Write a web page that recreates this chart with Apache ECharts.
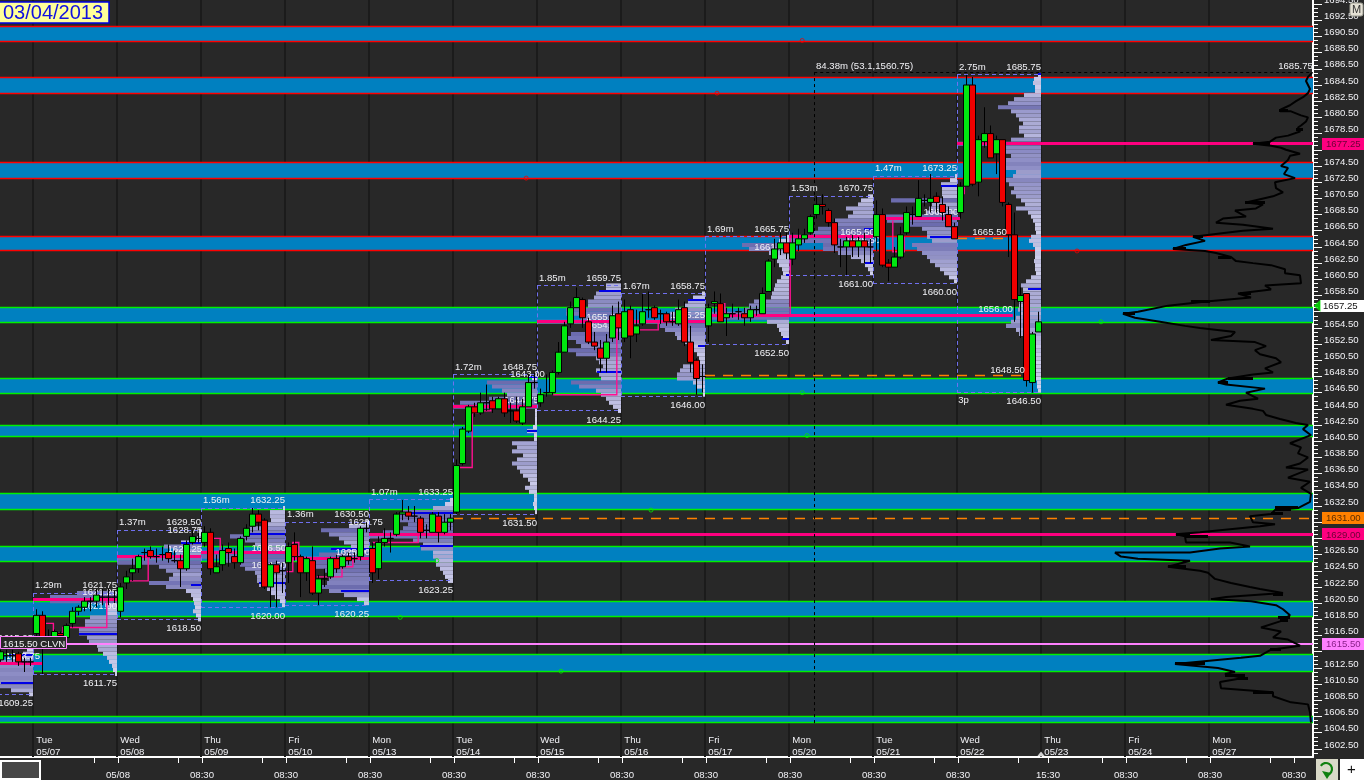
<!DOCTYPE html>
<html><head><meta charset="utf-8">
<style>html,body{margin:0;padding:0;background:#282828;overflow:hidden}#c{width:1364px;height:780px}</style>
<script src="https://cdn.jsdelivr.net/npm/echarts@6/dist/echarts.min.js"></script>
</head><body><div id="c"></div>
<script>
// ---------- axis data ----------
const priceMin = 1601.5, priceMax = 1695, barMin = -5.5, barMax = 213.33;
const priceLabels = [1602.5,1604.5,1606.5,1608.5,1610.5,1612.5,1614.5,1616.5,1618.5,1620.5,1622.5,1624.5,1626.5,1628.5,1630.5,1632.5,1634.5,1636.5,1638.5,1640.5,1642.5,1644.5,1646.5,1648.5,1650.5,1652.5,1654.5,1656.5,1658.5,1660.5,1662.5,1664.5,1666.5,1668.5,1670.5,1672.5,1674.5,1676.5,1678.5,1680.5,1682.5,1684.5,1686.5,1688.5,1690.5,1692.5,1694.5];
const timeTicks = [10.17,14.17,24.17,28.17,38.17,42.17,52.17,56.17,66.17,70.17,80.17,84.17,94.17,98.17,108.17,112.17,122.17,126.17,136.17,140.17,150.17,154.17,164.17,169.17,178.17,182.17,192.17,196.17,206.17,210.17];
const timeLabelBars = [14.17,28.17,42.17,56.17,70.17,84.17,98.17,112.17,126.17,140.17,154.17,169.17,182.17,196.17,210.17];
const timeLabelText = ['05/08','08:30','08:30','08:30','08:30','08:30','08:30','08:30','08:30','08:30','08:30','15:30','08:30','08:30','08:30'];
const dayNames = ['Tue','Wed','Thu','Fri','Mon','Tue','Wed','Thu','Fri','Mon','Tue','Wed','Thu','Fri','Mon'];
const dayDates = ['05/07','05/08','05/09','05/10','05/13','05/14','05/15','05/16','05/17','05/20','05/21','05/22','05/23','05/24','05/27'];

// ---------- zones ----------
const bandHigh = [1691.75,1685.4,1674.9,1665.8,1657.05,1648.2,1642.5,1634.1,1627.55,1620.7,1614.1,1606.5];
const bandLow  = [1689.9,1683.5,1673,1664,1655.2,1646.4,1641.1,1632.1,1625.7,1618.9,1612.1,1605.7];
const bandKind = ['r','r','r','r','g','g','g','g','g','g','g','g'];

// ---------- candles [open, close, low, high] ----------
const firstBar = -5.4;
const candles = [
[1613.5,1614.5,1613.25,1614.75],[1614,1614,1613.25,1614.75],[1614,1614,1613.25,1614.75],[1614.25,1613.25,1612.75,1614.5],[1613.25,1613.25,1612,1613.75],[1613.25,1613.25,1612.75,1613.75],
// 05/07
[1616.75,1619,1616.25,1619.75],[1619,1616.25,1611.75,1619.5],[1616.25,1616.25,1615.25,1617.25],[1616.25,1617,1616,1617.25],[1616.75,1616.5,1616.25,1617],[1616.25,1617.75,1616.25,1618],[1618,1619.5,1617.5,1620],[1619.5,1620,1619,1620.25],[1620,1620.75,1619.5,1621.25],[1620.75,1620.75,1619.5,1621.25],[1620.75,1621.5,1620,1622.25],[1621.25,1621.25,1620.25,1622.25],[1621.25,1621.25,1620.25,1622.25],[1621.25,1621.25,1620.5,1622],
// 05/08
[1619.5,1622.5,1618.75,1623],[1623,1623.75,1622.25,1624.5],[1624.25,1624.75,1623.25,1626],[1624.75,1626.25,1624.25,1626.5],[1626.75,1626.75,1625.75,1627.25],[1627,1626.25,1626,1627.5],[1626.25,1626.25,1625.5,1627.25],[1626.5,1626.5,1625.75,1627.5],[1626.75,1626,1625.5,1627.75],[1625.75,1625.75,1625.5,1627],[1625.75,1624.75,1622.5,1626.5],[1624.75,1627.75,1624.5,1628.25],[1628,1628.75,1627.75,1629.5],[1628.5,1628.5,1628,1629.25],
// 05/09
[1628,1629.25,1627.5,1630],[1629.25,1624.75,1624,1629.75],[1624.25,1625,1624.25,1626.5],[1625.25,1627,1624.5,1627.75],[1627.25,1626.75,1625,1628],[1626.25,1625.5,1624.75,1627.25],[1625.5,1628.5,1625.25,1628.75],[1628.75,1629.75,1628.25,1630.25],[1630,1631.5,1629.25,1632.25],[1631.5,1630.5,1629.5,1632],[1630.75,1622.5,1622.25,1631],[1622.5,1625.25,1620,1625.5],[1625.25,1624.25,1620,1625.75],[1624.5,1624.5,1621.75,1625.5],
// 05/10
[1625.5,1627.5,1623,1628],[1627.75,1626.25,1625.75,1629.25],[1626.25,1624.25,1621.25,1626.5],[1624.25,1626,1623.25,1626.25],[1625.75,1621.75,1621.5,1627.5],[1621.75,1623.5,1620.25,1624],[1623.5,1623.5,1622.5,1624.75],[1623.75,1626,1623.5,1626.25],[1626,1624.75,1624.25,1626.5],[1625,1626.25,1624.75,1626.5],[1626.25,1625.75,1625.25,1626.75],[1626,1626,1625.5,1626.75],[1626.25,1629.75,1625.75,1630],[1629.75,1629.75,1629.25,1630.5],
// 05/13
[1627.25,1624.25,1623,1628],[1624.75,1628,1623.5,1628.75],[1628,1628.5,1627.5,1629.75],[1628.5,1628.5,1626.75,1629.25],[1629,1631.5,1628.75,1631.75],[1631.5,1631.75,1630.75,1633.25],[1631.75,1631.25,1630.75,1632.5],[1631.25,1631.25,1630.5,1632.5],[1631,1629.25,1628.5,1631.25],[1629.5,1629.5,1628.5,1630.25],[1629.25,1631.5,1629.25,1631.75],[1631.25,1629.25,1628,1631.75],[1629.25,1630.5,1629,1631.5],[1630.5,1631,1629.5,1631.5],
// 05/14
[1631.75,1637.5,1631.5,1638.25],[1637.75,1642,1637.5,1642.25],[1641.75,1644.75,1641.5,1645],[1644.75,1644,1643.5,1645.25],[1644,1645.25,1643.75,1646.5],[1645.25,1645.25,1644.25,1647.5],[1645.5,1644.5,1644,1646],[1644.5,1645.75,1644.5,1646],[1645.75,1644,1643.5,1646.5],[1644.25,1644.25,1642.75,1645.25],[1644.25,1643,1642.75,1646],[1642.75,1644.75,1642.5,1645.75],[1644.75,1647.75,1644.75,1648.75],[1647.75,1647.75,1647,1649],
// 05/15
[1645.25,1646.25,1644.75,1647],[1646.5,1646.5,1646,1648.75],[1646.5,1649,1646.25,1649.25],[1649,1651.5,1648.75,1652.75],[1651.5,1654.75,1651.5,1655.25],[1655,1657,1654.5,1657.75],[1657,1658.25,1657,1659.5],[1658,1655.75,1654.5,1658.25],[1655.25,1652.75,1652.5,1655.75],[1652.75,1652.25,1651.75,1654],[1652,1650.75,1649,1653],[1650.75,1652.75,1649,1653.75],[1653.25,1656,1652.75,1657.25],[1656.25,1654.5,1653,1657.75],
// 05/16
[1653.25,1656.5,1652.75,1658],[1656.75,1653.5,1650.75,1657.25],[1653.75,1654.75,1652.75,1656.75],[1655,1656.5,1654.75,1658.75],[1656.75,1656.75,1655.75,1659],[1657,1655.75,1655.5,1657.25],[1656.25,1656.25,1655,1656.75],[1656.25,1655.25,1654.75,1656.5],[1655.25,1655.25,1654.75,1656.5],[1655,1656.75,1654.75,1658],[1657,1652.75,1652.25,1657.75],[1652.75,1650.25,1649,1654.75],[1650.5,1648.25,1646.25,1650.75],[1648.5,1648.5,1646.5,1650],
// 05/17
[1654.75,1657,1652.75,1657.5],[1657.5,1657.75,1656.25,1659],[1657.5,1655.25,1655.25,1658.75],[1655.75,1656.25,1653.5,1657],[1656.25,1656.25,1655.75,1657.5],[1656.5,1656.5,1655.5,1657],[1656.25,1655.75,1654.75,1657],[1655.75,1656.75,1655.25,1657.25],[1656.75,1656.75,1656,1657.25],[1656.25,1658.75,1656.25,1659.5],[1659,1662.75,1659,1663],[1663,1664.25,1662,1665.5],[1664.25,1665,1663.5,1666.25],[1665,1663.75,1663,1666.25],
// 05/20
[1663,1665,1662.25,1666.25],[1664.75,1665.5,1664,1666.75],[1665.5,1666,1665,1666.75],[1666.25,1668.25,1666,1668.5],[1668.5,1669.75,1668,1670.75],[1669.75,1669.5,1668.5,1671],[1669,1667.5,1667,1669.25],[1667.5,1664.75,1663.75,1668],[1664.5,1664.5,1662,1665.5],[1664.5,1665.25,1661,1665.75],[1665.25,1664.5,1663.25,1666],[1664.5,1665.25,1663.25,1665.75],[1665.25,1664.5,1662.5,1666.25],[1664.5,1664.5,1662.5,1665.5],
// 05/21
[1665.75,1668.5,1664,1670.25],[1668.5,1662.25,1662,1669.25],[1662.5,1662,1660.25,1663],[1662,1663.25,1662,1664.5],[1663.25,1666,1663,1667],[1666.25,1668.75,1666,1669.5],[1668.5,1668.5,1667.25,1669.5],[1668.25,1670.5,1668.25,1672.75],[1670.25,1670.25,1669.5,1671],[1670,1670.5,1668.75,1673.5],[1670.75,1670,1668.75,1671.25],[1669.75,1668.75,1667.75,1670.75],[1668.5,1667,1667,1669.5],[1667,1665.5,1665.5,1667.5],
// 05/22
[1668.75,1672,1668,1672.5],[1672,1684.5,1672,1685.75],[1684.5,1672.25,1672,1685.5],[1672.5,1677.75,1670.75,1678.25],[1677.5,1678.5,1676.75,1681.75],[1678.5,1675.5,1675.5,1679.5],[1676,1677.75,1673.5,1678.25],[1677.75,1670,1669.5,1677.75],[1669.75,1666,1663.25,1670],[1666,1658,1655.25,1668.75],[1657.75,1658.5,1653.25,1659.5],[1658.75,1648,1647.25,1658.75],[1647.75,1653.75,1646.5,1654],[1654,1655.25,1654,1656.5]
];

// ---------- sessions ----------
const sessionStart = [-14,0,14,28,42,56,70,84,98,112,126,140,154];
const sessionHigh = [1615.25,1621.75,1629.5,1632.25,1630.5,1633.25,1648.75,1659.75,1658.75,1665.75,1670.75,1673.25,1685.75];
const sessionLow  = [1609.25,1611.75,1618.5,1620,1620.25,1623.25,1631.5,1644.25,1646,1652.5,1661,1660,1646.5];
const sessionHighText = ['1615.25','1621.75','1629.50','1632.25','1630.50','1633.25','1648.75','1659.75','1658.75','1665.75','1670.75','1673.25','1685.75'];
const sessionLowText  = ['1609.25','1611.75','1618.50','1620.00','1620.25','1623.25','1631.50','1644.25','1646.00','1652.50','1661.00','1660.00','1646.50'];
const sessionVol = ['','1.29m','1.37m','1.56m','1.36m','1.07m','1.72m','1.85m','1.67m','1.69m','1.53m','1.47m','2.75m'];

// volume at price, rows every 0.50 from session high downward
const profiles = [
[3,6,10,20,33,36,36,36,36,36,34,22,4],
[40,67,67,12,10,10,27,32,32,38,38,30,28,20,19,14,10,8,5,4,2],
[2,3,4,20,37,28,25,84,84,42,35,28,32,52,35,15,10,8,7,6,8,5,3],
[2,15,15,14,18,35,37,55,40,30,25,84,84,60,45,40,30,28,28,26,18,14,10,5,3],
[3,20,48,40,30,25,18,25,50,84,70,55,45,42,40,42,55,40,25,12,5],
[3,8,20,50,55,55,45,50,70,84,40,30,32,20,20,17,17,13,10,8,5],
[1,5,50,45,35,30,48,77,84,2,2,2,2,4,10,3,3,25,20,25,14,20,25,20,17,14,9,7,12,8,3,3,4,3,2],
[15,15,25,27,33,33,55,55,40,84,33,30,50,55,45,40,55,45,25,22,18,25,22,20,50,42,25,20,15,12,8,3],
[3,12,17,20,30,35,40,84,45,40,30,28,20,12,12,8,6,10,22,25,28,28,12,8,3,2],
[2,10,47,40,20,15,12,10,7,6,8,12,14,15,17,18,35,40,45,84,84,22,12,10,8,6,3],
[5,12,15,27,20,25,38,42,55,60,84,84,50,50,35,22,12,8,5,3],
[2,7,16,15,15,15,66,25,28,30,84,70,50,35,30,30,25,45,40,35,30,27,22,17,13,8,3],
[3,7,8,6,6,17,27,33,43,30,25,22,18,22,22,17,30,84,35,37,30,35,37,35,25,28,35,32,27,30,25,20,16,25,13,10,8,6,6,5,10,12,8,6,6,6,7,6,6,5,10,15,20,18,18,20,22,22,23,20,25,30,35,25,22,18,13,11,12,10,8,6,6,8,6,5,4,4,3]
];

// value-area marks: session index, price, size
const vaSession = [0,0,1,2,2,3,3,4,4,5,5,6,6,7,7,8,8,9,9,10,10,11,11,12,12];
const vaPrice = [1614.1,1610.65,1616.75,1627.9,1622.75,1629.05,1623,1627.15,1622,1631.6,1627.6,1648.4,1641.8,1659,1649,1658,1652.25,1661,1653.1,1666.7,1662.5,1672,1665.75,1685.9,1659.25];
const vaSize = [25,32,38,20,10,37,26,38,28,52,33,8,10,22,24,17,7,3,7,9,8,16,27,3,13];

// points of control
const pocFrom = [-5.5,0,14,28,42,56,70,84,98,112,126,140,154];
const pocTo   = [1.67,14,28,42,56,213.33,84,98,112,163.3,140,154.5,213.33];
const pocPrice= [1613,1621,1626.25,1626.75,1626,1629,1644.75,1655.25,1655.25,1656,1665.75,1668,1677.25];

// developing value steps
const devSteps = [
[[1.7,1618],[3.4,1618],[3.4,1616.75],[5,1616.75],[5,1617.5],[12.3,1617.5],[12.3,1620.9]],
[[15.6,1623.25],[19.2,1623.25],[19.2,1626.2]],
[[30,1628.5],[31.2,1628.5],[31.2,1626.5]],
[[42.3,1624.4],[43.3,1624.4],[43.3,1628],[44.3,1628],[44.3,1626]],
[[47.3,1623.75],[51.5,1623.75],[51.5,1625],[53.3,1625],[53.3,1626]],
[[56.6,1628],[64.2,1628],[64.2,1629]],
[[70.9,1637.25],[73.2,1637.25],[73.2,1644],[74.2,1644],[74.2,1644.25],[76.3,1644.25],[76.3,1644.75]],
[[86.7,1646.25],[97.3,1646.25],[97.3,1655]],
[[100.9,1654.25],[104.2,1654.25],[104.2,1655.25]],
[[113.1,1657.5],[115.3,1657.5],[115.3,1655.75]],
[[126.2,1665.75],[126.2,1656]],
[[143.3,1667.75],[143.3,1663.9],[145.2,1663.9],[145.2,1665.75]],
[[154.5,1671.1],[155.2,1671.1],[155.2,1672]]
];

// dashed level lines
const dashFrom = [70,112,154], dashTo = [213.33,165,163], dashPrice = [1631,1648.6,1665.5];

// session text under the candles
const midText = ['1613.75','1621.25','1621.00','1628.75','1626.25','1626.50','1624.50','1629.75','1625.00','1643.00','1644.75','1655.25','1654.75','1655.25','1661.50','1665.50','1665.50','1668.00'];
const midBar  = [1.2,14,14,28.2,28.2,42.2,42.2,58.3,56.2,85.3,84.3,98,98,112,126,140.3,141.2,154.2];
const midPos  = [1613.9,1621.8,1620.15,1629.45,1627.1,1627.3,1625.2,1630.45,1626.75,1648.8,1645.5,1655.85,1654.85,1656,1664.5,1666.25,1665.3,1668.8];
// session text above the candles
const topText = ['1665.50','1656.00','1648.50','84.38m (53.1,1560.75)','1685.75','3p'];
const topBar  = [162.3,163.3,165.3,130.5,213.3,154.2];
const topPos  = [1666.25,1656.85,1649.2,1686.75,1686.75,1645.6];
const topAlign= ['right','right','right','left','right','left'];

// measure line
const measureBar = 130.2, measureTop = 1686.1, measureBottom = 1605.5;

// swing markers
const greenDotBar = [178,128.2,129,103,67.3,61.2,88];
const greenDotPrice = [1655.25,1646.5,1641.2,1632,1625.75,1618.75,1612.1];
const redDotBar = [128.2,114,82.2,174];
const redDotPrice = [1690,1683.5,1673,1664];

// right-hand price tags
const tagPrice = [1677.25,1657.25,1631,1629,1615.5];
const tagText = ['1677.25','1657.25','1631.00','1629.00','1615.50'];
const tagFill = ['#ff0080','#ffffff','#ff8000','#ff0080','#ff80ff'];
const tagInk = ['#6a0035','#111111','#5a2d00','#6a0035','#8a1f8a'];

// composite volume profile
const compPrice = [1686,1685.5,1685,1684,1683.5,1683,1682.5,1682,1681.5,1681.25,1681.25,1680.75,1680.5,1680,1679.5,1679.25,1678.75,1678.25,1678,1677.5,1677.25,1677,1676.75,1676.5,1676,1675.75,1675.25,1674.5,1674.25,1673.5,1673,1672.5,1671.75,1671.25,1670.75,1670,1669.75,1669.25,1669,1668.25,1668,1667.5,1667.25,1666.75,1666.5,1666.25,1665.75,1665.25,1664.75,1664.25,1664,1663.75,1663.25,1662.75,1662.5,1662.25,1661.75,1661.25,1661,1660,1659.75,1659.25,1658.75,1658.25,1657.75,1657.25,1656.5,1656.25,1655.75,1655.25,1654.75,1654.5,1654,1653.5,1653,1652.75,1652.25,1651.75,1651.25,1650.75,1650.25,1649.5,1649,1648.75,1648.25,
1647.75,1647.5,1647,1646.5,1645.75,1645.5,1645,1644.5,1644.25,1643.75,1643.25,1642.75,1642.5,1642,1641.25,1640.25,1639.75,1639,1638.5,1637.75,1637.25,1637,1636,1635.5,1634.75,1634,1633,1632.25,1632,1631.5,1631.25,1630.5,1630.25,1630,1629.75,1629.25,1629,1628.75,1628,1628,1627.5,1627.25,1626.75,1626.75,1626.25,1626,1625.75,1625,1624.5,1624.25,1623.5,1623,1622.5,1622.25,1621.75,1621.25,1621,1620.75,1620.25,1619.75,1619,1618.25,1617.5,1617,1616.25,1616,1615.25,1614.75,1614,1613.75,1613,1612.5,1612,1611.75,1611.25,1610.75,1610,1609.5,1609,1608.25,1608,1607,1605.75];
const compVol = [1,5,7,3,5,10,17,23,32,33,22,12,5,7,12,15,13,25,37,43,60,42,32,27,13,23,25,32,25,29,18,38,37,30,40,67,50,57,78,67,90,97,70,40,70,87,120,108,127,140,108,97,82,77,60,42,28,28,13,12,48,42,75,62,107,145,175,190,178,153,128,113,78,82,102,58,47,58,53,37,32,48,40,60,85,
95,87,48,67,55,73,87,60,50,47,33,17,5,10,2,23,12,15,5,13,27,5,25,3,12,2,3,15,38,42,63,60,38,53,73,113,137,128,127,83,63,93,123,198,192,175,123,145,113,105,98,82,63,53,30,87,102,62,37,30,23,33,52,32,40,25,13,42,53,72,138,95,78,88,70,93,92,40,40,22,5,3,2];
// heavy rows of the composite profile: price, volume from, volume to
const heavyPrice = [1681.4,1679,1677.25,1670,1665.75,1664.25,1663.25,1658.75,1657.75,1656.25,1648.25,1647.75,1632.3,1632.05,1631.6,1629,1628.75,1625,1621.6,1618.75,1618.3,1614.75,1613,1611.6,1611.2,1609.5];
const heavyFrom  = [34,17,60,68,120,140,95,73,122,190,85,95,38,38,42,137,128,145,40,35,33,43,138,88,75,60];
const heavyTo    = [25,10,43,48,110,127,82,62,103,178,60,85,15,22,30,123,105,127,30,23,25,32,108,68,65,40];

// ---------- rendering ----------
const FONT = '"Liberation Sans",Arial,sans-serif';
const TXT = '#f2f2f6';
const BW = 6; // volume units per bar on the x scale
const chart = echarts.init(document.getElementById('c'), null, {renderer:'canvas', width:1364, height:780});

function snap(v,w){return (w<2||Math.round(w)%2) ? Math.floor(v)+0.5 : Math.round(v);}
function seg(api, a, b, stroke, width, dash){
  const p1 = api.coord(a), p2 = api.coord(b);
  let x1=p1[0],y1=p1[1],x2=p2[0],y2=p2[1];
  if(y1===y2){y1=y2=snap(y1,width);} if(x1===x2){x1=x2=snap(x1,width);}
  return {type:'line', shape:{x1,y1,x2,y2}, style:{stroke, lineWidth:width, lineDash:dash||null}, silent:true};
}
function textEl(x,y,t,align,size,fill){
  return {type:'text', style:{text:t,x,y,align:align,verticalAlign:'middle',font:(size||9.6)+'px '+FONT,fill:fill||TXT}, silent:true};
}
function idx(n){const a=[];for(let i=0;i<n;i++)a.push([i,0]);return a;}
function custom(name,z,n,render,clip){return {name,type:'custom',z,data:idx(n),renderItem:render,clip:clip!==false,silent:true,animation:false,encode:{x:0,y:1},legendHoverLink:false};}
function rowColor(w,i){
  const r = Math.min(1,w/48), j = i%2 ? 8 : 0;
  const c = [208-100*r+j, 208-100*r+j, 234-60*r+j];
  return 'rgb('+c.map(v=>Math.min(255,Math.round(v))).join(',')+')';
}

const profRows = [];
profiles.forEach((rows,s)=>rows.forEach((w,i)=>profRows.push([sessionStart[s]+14, sessionHigh[s]-0.5*i, w, i])));
const sessionLines = dayNames.map((_,i)=>i*14);
const candleData = candles.map((c,i)=>[firstBar+i,c[0],c[1],c[2],c[3]]);

const series = [
 custom('sessionLines',1,sessionLines.length,(p,api)=>seg(api,[sessionLines[p.dataIndex],priceMin],[sessionLines[p.dataIndex],priceMax],'#1b1b1b',2)),
 custom('bands',2,bandHigh.length,(p,api)=>{
   const i=p.dataIndex,a=api.coord([barMin,bandHigh[i]]),b=api.coord([barMax,bandLow[i]]);
   const col=bandKind[i]==='r'?'#ff0000':'#00f000';
   return {type:'group',children:[
     {type:'rect',shape:{x:a[0],y:a[1],width:b[0]-a[0],height:b[1]-a[1]},style:{fill:'#0080c0'}},
     seg(api,[barMin,bandHigh[i]],[barMax,bandHigh[i]],col,1.5),
     seg(api,[barMin,bandLow[i]],[barMax,bandLow[i]],col,1.5)]};
 }),
 custom('profiles',3,profRows.length,(p,api)=>{
   const r=profRows[p.dataIndex],a=api.coord([r[0]-r[2]/BW,r[1]+0.25]),b=api.coord([r[0],r[1]-0.25]);
   return {type:'rect',shape:{x:a[0],y:a[1],width:b[0]-a[0],height:b[1]-a[1]},style:{fill:rowColor(r[2],r[3])}};
 }),
 custom('valueArea',4,vaPrice.length,(p,api)=>{
   const i=p.dataIndex,e=sessionStart[vaSession[i]]+14;
   return seg(api,[e-vaSize[i]/BW,vaPrice[i]],[e,vaPrice[i]],'#0000e6',2);
 }),
 custom('sessionBoxes',4,sessionStart.length,(p,api)=>{
   const i=p.dataIndex,s=sessionStart[i],e=s+14,col='#7070f0',d=[4,3];
   return {type:'group',children:[
     seg(api,[s,sessionHigh[i]],[e,sessionHigh[i]],col,1,d),
     seg(api,[s,sessionLow[i]],[e,sessionLow[i]],col,1,d),
     seg(api,[s,sessionHigh[i]],[s,sessionLow[i]],col,1,d)]};
 }),
 custom('midLabels',5,midText.length,(p,api)=>{
   const i=p.dataIndex,c=api.coord([midBar[i],midPos[i]]);
   return textEl(c[0],c[1],midText[i],'right');
 }),
 custom('devSteps',5,devSteps.length,(p,api)=>{
   const pts=devSteps[p.dataIndex].map(q=>api.coord(q));
   return {type:'polyline',shape:{points:pts},style:{stroke:'#ff1090',lineWidth:1.4,fill:null}};
 }),
 custom('poc',6,pocPrice.length,(p,api)=>{
   const i=p.dataIndex;
   return seg(api,[pocFrom[i],pocPrice[i]],[pocTo[i],pocPrice[i]],'#ff0080',3);
 }),
 custom('levels',6,dashPrice.length,(p,api)=>{
   const i=p.dataIndex;
   return seg(api,[dashFrom[i],dashPrice[i]],[dashTo[i],dashPrice[i]],'#ff8000',1.5,[10,8]);
 }),
 custom('clvn',6,1,(p,api)=>seg(api,[barMin,1615.5],[barMax,1615.5],'#ff80ff',2)),
 custom('measure',6,1,(p,api)=>({type:'group',children:[
   seg(api,[measureBar,measureTop],[measureBar,measureBottom],'#000',1,[3,3]),
   seg(api,[measureBar,measureTop],[barMax,measureTop],'#000',1,[3,3])]})),
 {name:'composite',type:'line',z:7,data:compPrice.map((p,i)=>[barMax-compVol[i]/BW,p]),showSymbol:false,lineStyle:{color:'#000',width:2},silent:true,animation:false,clip:true},
 custom('compositeHeavy',7,heavyPrice.length,(p,api)=>{
   const i=p.dataIndex;
   return seg(api,[barMax-heavyFrom[i]/BW,heavyPrice[i]],[barMax-heavyTo[i]/BW,heavyPrice[i]],'#000',3);
 }),
 {name:'price',type:'candlestick',z:8,data:candleData,barWidth:6,encode:{x:0,y:[1,2,3,4]},silent:true,animation:false,
  itemStyle:{color:'#00e810',color0:'#f00000',borderColor:'#000',borderColor0:'#000',borderColorDoji:'#000',borderWidth:1}},
 custom('sessionText',9,sessionStart.length,(p,api)=>{
   const i=p.dataIndex,s=sessionStart[i],e=s+14,h=api.coord([e,sessionHigh[i]]),l=api.coord([e,sessionLow[i]]),st=api.coord([s,sessionHigh[i]]);
   return {type:'group',children:[
     textEl(h[0],h[1]-7.5,sessionHighText[i],'right'),
     textEl(l[0],l[1]+9,sessionLowText[i],'right'),
     textEl(st[0]+2,st[1]-7.5,sessionVol[i],'left')]};
 }),
 custom('topText',9,topText.length,(p,api)=>{
   const i=p.dataIndex,c=api.coord([topBar[i],topPos[i]]);
   return textEl(c[0],c[1],topText[i],topAlign[i]);
 }),
 custom('clvnTag',9,1,(p,api)=>{
   const c=api.coord([barMin,1615.5]);
   return {type:'group',children:[
     {type:'rect',shape:{x:0.5,y:Math.floor(c[1])-6.5,width:66,height:12},style:{fill:'#282828',stroke:'#ff80ff',lineWidth:1}},
     textEl(3,c[1]+0.5,'1615.50 CLVN','left')]};
 }),
 custom('dayLabels',9,dayNames.length,(p,api)=>{
   const i=p.dataIndex,a=api.coord([i*14+0.55,1603.55]),b=api.coord([i*14+0.55,1602.05]);
   return {type:'group',children:[textEl(a[0],a[1],dayNames[i],'left'),textEl(b[0],b[1],dayDates[i],'left')]};
 }),
 {name:'greenDots',type:'scatter',z:9,symbol:'circle',symbolSize:4,silent:true,animation:false,data:greenDotBar.map((b,i)=>[b,greenDotPrice[i]]),itemStyle:{color:'rgba(0,0,0,0)',borderColor:'#00e800',borderWidth:1}},
 {name:'redDots',type:'scatter',z:9,symbol:'circle',symbolSize:4,silent:true,animation:false,data:redDotBar.map((b,i)=>[b,redDotPrice[i]]),itemStyle:{color:'rgba(0,0,0,0)',borderColor:'#f00000',borderWidth:1}},
 custom('tags',10,tagPrice.length,(p,api)=>{
   const i=p.dataIndex,c=api.coord([barMax,tagPrice[i]]),x0=i===1?c[0]+7:c[0]+9;
   return {type:'group',children:[
     {type:'rect',shape:{x:x0,y:Math.round(c[1])-6,width:1364-x0,height:12},style:{fill:tagFill[i]}},
     textEl(x0+(i===1?3:4),c[1]+0.5,tagText[i],'left',9.6,tagInk[i])]};
 },false),
 {name:'lastArrow',type:'scatter',z:10,symbol:'triangle',symbolRotate:90,symbolSize:[12,7],symbolOffset:[4,0],clip:false,silent:true,animation:false,data:[[barMax,1657.25]],itemStyle:{color:'#00e800'}},
 {name:'nowArrow',type:'scatter',z:10,symbol:'triangle',symbolSize:[8,5],symbolOffset:[0,-3],clip:false,silent:true,animation:false,data:[[168,priceMin]],itemStyle:{color:'#fff'}}
];

function minorTicks(){const a=[];for(const v of priceLabels){a.push(v-0.5,v-1,v-1.5);}return a.filter(v=>v>priceMin);}

const overlay = [
   {type:'rect',shape:{x:-1,y:2,width:110,height:21},style:{fill:'#ffff99',stroke:'#0000e0',lineWidth:1.5}},
   {type:'text',x:3,y:3,style:{text:'03/04/2013',font:'20px '+FONT,fill:'#1010e0'}},
   {type:'rect',shape:{x:1350,y:3,width:13,height:13,r:2},style:{fill:'#e4e0d4',stroke:'#9a9a90',lineWidth:1}},
   {type:'text',x:1352,y:4,style:{text:'M',font:'11px '+FONT,fill:'#333'}},
   {type:'rect',shape:{x:1,y:761,width:39,height:18},style:{fill:'#474747',stroke:'#fff',lineWidth:2}},
   {type:'rect',shape:{x:1316,y:759,width:22,height:21},style:{fill:'#d9d9c8'}},
   {type:'arc',shape:{cx:1326,cy:769,r:6,startAngle:-2.6,endAngle:1.2,clockwise:true},style:{stroke:'#108010',lineWidth:2.2,fill:null}},
   {type:'polygon',shape:{points:[[1322,771],[1331,773],[1327,779]]},style:{fill:'#108010'}},
   {type:'rect',shape:{x:1340,y:759,width:24,height:21},style:{fill:'#fff'}},
   {type:'text',x:1347,y:762,style:{text:'+',font:'15px '+FONT,fill:'#111'}}
];
overlay.forEach((e,i)=>{e.z=100+i;});

const option = {
 animation:false, backgroundColor:'#282828',
 grid:{left:0,top:0,width:1313,height:757,show:true,backgroundColor:'#282828',borderWidth:0,containLabel:false,outerBoundsMode:'none'},
 xAxis:{type:'value',min:barMin,max:barMax,position:'bottom',splitLine:{show:false},
   axisLine:{show:true,onZero:false,lineStyle:{color:'#fff',width:2}},
   axisTick:{show:true,length:6,customValues:timeTicks,lineStyle:{color:'#fff',width:1}},
   axisLabel:{show:true,customValues:timeLabelBars,margin:13,color:TXT,fontSize:9.6,fontFamily:FONT,
     formatter:v=>{let b=0;timeLabelBars.forEach((t,i)=>{if(Math.abs(t-v)<Math.abs(timeLabelBars[b]-v))b=i;});return timeLabelText[b];}}},
 yAxis:[
  {type:'value',min:priceMin,max:priceMax,position:'right',splitLine:{show:false},
   axisLine:{show:true,onZero:false,lineStyle:{color:'#fff',width:2}},
   axisTick:{show:true,length:9,customValues:priceLabels,lineStyle:{color:'#fff',width:1}},
   axisLabel:{show:true,customValues:priceLabels,margin:11,color:TXT,fontSize:9.6,fontFamily:FONT,verticalAlign:'bottom',lineHeight:8,formatter:v=>v.toFixed(2)}},
  {type:'value',min:priceMin,max:priceMax,position:'right',splitLine:{show:false},axisLine:{show:false,onZero:false},
   axisTick:{show:true,length:5,customValues:minorTicks(),lineStyle:{color:'#fff',width:1}},axisLabel:{show:false}}
 ],
 series:series,
 graphic:overlay
};
chart.setOption(option);
</script></body></html>
